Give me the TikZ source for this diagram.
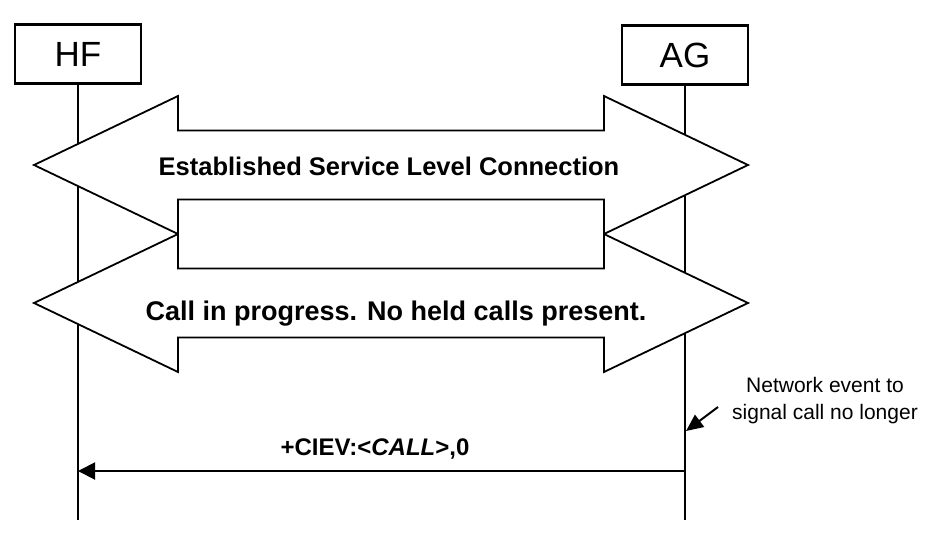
\documentclass[tikz,border=0pt]{standalone}
\usepackage{fontspec}
\setmainfont{Liberation Sans}
\usetikzlibrary{arrows.meta}

\begin{document}
\begin{tikzpicture}[x=1pt,y=-1pt,
  entity/.style={draw,line width=2.5pt,minimum width=126pt,minimum height=59pt,
    inner sep=0pt,font=\fontsize{35}{40}\selectfont},
  life/.style={line width=2pt},
  bigarrow/.style={draw,line width=1.8pt,fill=white,line join=miter},
  msg/.style={line width=2pt,-{Triangle[length=17pt,width=17pt]}}]
\useasboundingbox (0,0) rectangle (934,536);

% entities and lifelines
\node[entity] (hf) at (78,54) {HF};
\node[entity] (ag) at (685,55) {AG};
\node[coordinate] (hfend) at (78,520) {};
\node[coordinate] (agend) at (685,520) {};
\draw[life] (hf.south) -- (hfend);
\draw[life] (ag.south) -- (agend);

% the two state arrows
\foreach \y in {165,303}
  \draw[bigarrow] (34,\y) -- (178,\y-69) -- (178,\y-34.5) -- (604,\y-34.5)
    -- (604,\y-69) -- (748,\y) -- (604,\y+69) -- (604,\y+34.5)
    -- (178,\y+34.5) -- (178,\y+69) -- cycle;
\node[anchor=base,font=\bfseries\fontsize{25.5}{30}\selectfont] (slc) at (389,175)
  {Established Service Level Connection};
\node[anchor=base,font=\bfseries\fontsize{27}{32}\selectfont] (prog) at (396,320)
  {Call in progress. No held calls present.};

% message
\node[coordinate] (agmsg) at (685,471) {};
\node[coordinate] (hfmsg) at (78,471) {};
\draw[msg] (agmsg) -- (hfmsg);
\node[anchor=base,font=\bfseries\fontsize{24}{28}\selectfont] (ciev) at (375,455)
  {+CIEV:<\textit{CALL}>,0};

% note
\node[align=center,font=\fontsize{21}{27}\selectfont] (note) at (825,401)
  {Network event to\\signal call no longer};
\node[coordinate] (notetail) at (718,407) {};
\node[coordinate] (notetip) at (686,431) {};
\draw[line width=2pt,-{Triangle[length=17pt,width=15pt]}] (notetail) -- (notetip);
\end{tikzpicture}
\end{document}
